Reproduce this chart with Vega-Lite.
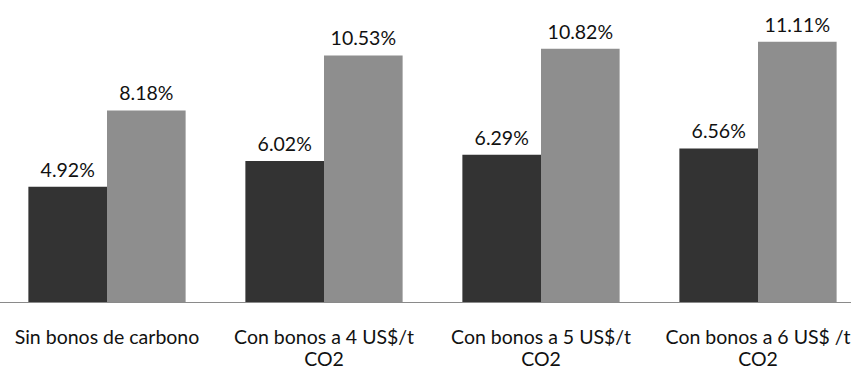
{
  "$schema": "https://vega.github.io/schema/vega-lite/v6.json",
  "autosize": "none",
  "width": 851,
  "height": 302,
  "padding": {"left": 0, "top": 0, "right": 0, "bottom": 70},
  "background": "white",
  "data": {
    "values": [
      {"cat": "Sin bonos de carbono", "serie": "A", "v": 0.0492},
      {"cat": "Sin bonos de carbono", "serie": "B", "v": 0.0818},
      {"cat": "Con bonos a 4 US$/t CO2", "serie": "A", "v": 0.0602},
      {"cat": "Con bonos a 4 US$/t CO2", "serie": "B", "v": 0.1053},
      {"cat": "Con bonos a 5 US$/t CO2", "serie": "A", "v": 0.0629},
      {"cat": "Con bonos a 5 US$/t CO2", "serie": "B", "v": 0.1082},
      {"cat": "Con bonos a 6 US$ /t CO2", "serie": "A", "v": 0.0656},
      {"cat": "Con bonos a 6 US$ /t CO2", "serie": "B", "v": 0.1111}
    ]
  },
  "encoding": {
    "x": {
      "field": "cat", "type": "nominal", "sort": null,
      "scale": {"range": [-1.5, 866.5], "paddingInner": 0, "paddingOuter": 0},
      "axis": {
        "title": null, "labelAngle": 0, "ticks": false,
        "domainColor": "#8a8a8a", "domainWidth": 1.2,
        "labelFont": "Lato", "labelFontSize": 19.5, "labelColor": "#111",
        "labelPadding": 26, "labelLineHeight": 22, "labelLimit": 300,
        "labelExpr": "indexof(datum.label, ' CO2') > 0 ? [replace(datum.label, ' CO2', ''), 'CO2'] : datum.label"
      }
    },
    "xOffset": {"field": "serie", "type": "nominal", "scale": {"paddingInner": 0, "paddingOuter": 0.38}},
    "y": {
      "field": "v", "type": "quantitative",
      "scale": {"domain": [0, 0.12], "range": [302, 21], "nice": false, "zero": true},
      "axis": null
    }
  },
  "layer": [
    {
      "mark": {"type": "bar"},
      "encoding": {
        "color": {
          "field": "serie", "type": "nominal",
          "scale": {"domain": ["A", "B"], "range": ["#333333", "#8e8e8e"]},
          "legend": null
        }
      }
    },
    {
      "mark": {"type": "text", "baseline": "alphabetic", "dy": -10, "font": "Lato", "fontSize": 19.5, "color": "#111"},
      "encoding": {
        "text": {"field": "v", "type": "quantitative", "format": ".2%"}
      }
    }
  ],
  "config": {"view": {"stroke": null}}
}
